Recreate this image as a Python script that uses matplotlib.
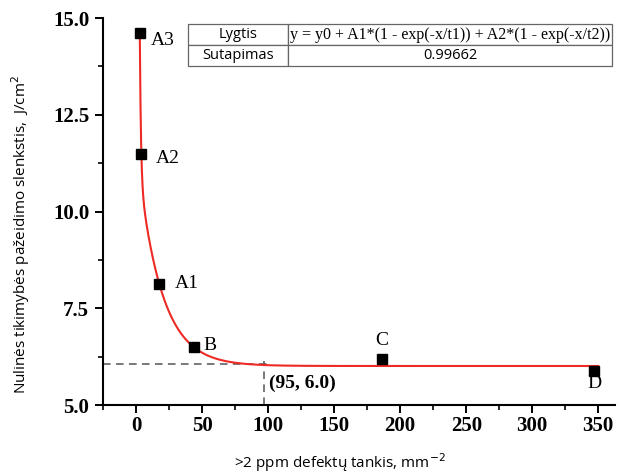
import numpy as np
import matplotlib

matplotlib.use("Agg")
import matplotlib.pyplot as plt
from matplotlib.ticker import MultipleLocator, FormatStrFormatter

# measured points
point_names = ["A3", "A2", "A1", "B", "C", "D"]
density = [2.8, 4.0, 17.5, 44, 186, 347]
threshold = [14.62, 11.5, 8.14, 6.51, 6.19, 5.89]

# fit y = y0 + A1*(1-exp(-x/t1)) + A2*(1-exp(-x/t2)), parameters
fit_y0 = 106.2
fit_a1 = -94.5
fit_t1 = 0.866
fit_a2 = -5.69
fit_t2 = 17.8

marked_x = 97
marked_y = 6.06
marked_label = "(95, 6.0)"

table_rows = [["Lygtis", "y = y0 + A1*(1 - exp(-x/t1)) + A2*(1 - exp(-x/t2))"],
              ["Sutapimas", "0.99662"]]

label_offsets = {"A3": (8.5, -0.19), "A2": (11, -0.12), "A1": (11.5, 0), "B": (7, 0.04),
                 "C": (0, 0.49), "D": (0, -0.33)}

fig = plt.figure(figsize=(6.21, 4.76), dpi=100)
ax = fig.add_axes([0.166, 0.149, 0.825, 0.813])

fit_x = np.linspace(density[0], 350, 2000)
fit_curve = (fit_y0 + fit_a1 * (1 - np.exp(-fit_x / fit_t1))
             + fit_a2 * (1 - np.exp(-fit_x / fit_t2)))
ax.plot(fit_x, fit_curve, color="#ee2a24", lw=1.5, zorder=2)

ax.plot([-25, marked_x + 3], [marked_y, marked_y], color="#555555", lw=1.1,
        linestyle=(0, (5, 3.5)), zorder=1)
ax.plot([marked_x, marked_x], [5.0, marked_y + 0.08], color="#555555", lw=1.1,
        linestyle=(0, (5, 3.5)), zorder=1)
ax.text(marked_x + 4, 5.57, marked_label, fontsize=14, fontweight="bold",
        family="Liberation Serif", ha="left", va="center")

ax.plot(density, threshold, linestyle="none", marker="s", markersize=6.5,
        color="black", zorder=3)

for name, x, y in zip(point_names, density, threshold):
    dx, dy = label_offsets[name]
    ha = "center" if dx == 0 else "left"
    ax.text(x + dx, y + dy, name, fontsize=14, family="Liberation Serif",
            ha=ha, va="center")

ax.set_xlim(-25, 363)
ax.set_ylim(5.0, 15.0)
ax.set_xticks(np.arange(0, 351, 50))
ax.xaxis.set_minor_locator(MultipleLocator(25))
ax.yaxis.set_major_locator(MultipleLocator(2.5))
ax.yaxis.set_minor_locator(MultipleLocator(1.25))
ax.yaxis.set_major_formatter(FormatStrFormatter("%.1f"))

for side in ["top", "right"]:
    ax.spines[side].set_visible(False)
for side in ["left", "bottom"]:
    ax.spines[side].set_linewidth(1.5)

ax.tick_params(which="major", direction="out", length=6, width=1.4, pad=4)
ax.tick_params(axis="x", which="major", pad=2)
ax.tick_params(which="minor", direction="out", length=3.5, width=1.2)
for lbl in ax.get_xticklabels() + ax.get_yticklabels():
    lbl.set_family("Liberation Serif")
    lbl.set_fontweight("bold")
    lbl.set_fontsize(15)

ax.set_xlabel(">2 ppm defektų tankis, mm$^{-2}$", family="Open Sans", fontsize=11)
ax.set_ylabel("Nulinės tikimybės pažeidimo slenkstis,  J/cm$^{2}$", family="Open Sans",
              fontsize=11)
ax.xaxis.set_label_coords(0.463, -0.12)
ax.yaxis.set_label_coords(-0.139, 0.44)

tbl = ax.table(cellText=table_rows, cellLoc="center",
               bbox=[0.166, 0.876, 0.828, 0.108], colWidths=[0.236, 0.764])
tbl.auto_set_font_size(False)
for (r, c), cell in tbl.get_celld().items():
    cell.set_edgecolor("#666666")
    cell.set_linewidth(0.9)
    txt = cell.get_text()
    txt.set_fontsize(10.5)
    if r == 0 and c == 1:
        txt.set_family("Liberation Serif")
        txt.set_fontsize(11.5)
    else:
        txt.set_family("Open Sans")
tbl.set_clip_on(False)

fig.savefig("out.png", dpi=100)
